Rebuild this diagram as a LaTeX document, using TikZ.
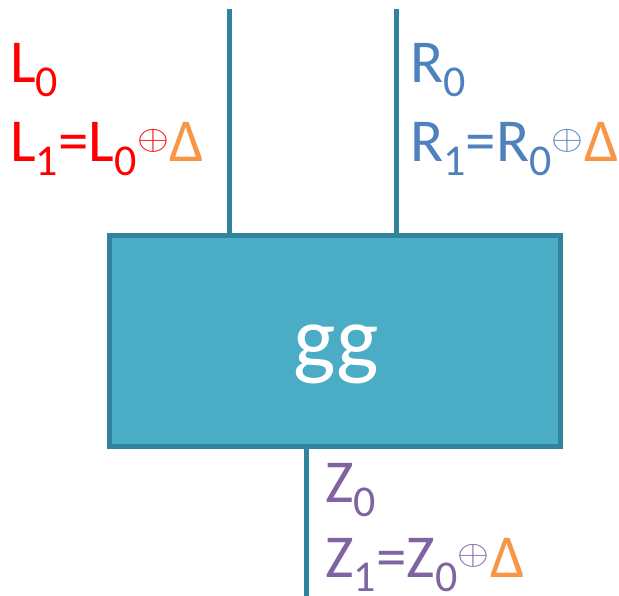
\documentclass[tikz,border=0pt]{standalone}
\usepackage{fontspec}
\setmainfont{Carlito}
\definecolor{boxfill}{HTML}{4BACC6}
\definecolor{boxline}{HTML}{31849B}
\definecolor{lred}{HTML}{FF0000}
\definecolor{rblue}{HTML}{4F81BD}
\definecolor{zpurple}{HTML}{8064A2}
\definecolor{dorange}{HTML}{F79646}
\newcommand{\mysub}[1]{\raisebox{-14pt}{\fontsize{44}{44}\selectfont #1}}
\newcommand{\myxor}{\makebox[33pt]{\raisebox{12.5pt}{\scalebox{4.1}[3.45]{\fontsize{10}{12}\selectfont$\oplus$}}}}
\newcommand{\mydelta}{\textcolor{dorange}{Δ}}
\begin{document}
\begin{tikzpicture}[x=1pt,y=-1pt,
  lbl/.style={anchor=base west,inner sep=0pt,font=\fontsize{61}{61}\selectfont},
  wire/.style={draw=boxline,line width=5pt},
  fbox/.style={draw=boxline,line width=5pt,fill=boxfill,minimum width=451pt,minimum height=211pt,inner sep=0pt}]
\useasboundingbox (0,0) rectangle (619,596);
\node[fbox] (g) at (335,341) {};
\node[anchor=base,inner sep=0pt,text=white,font=\fontsize{90}{90}\selectfont] (gtxt) at (336,368) {gg};
\coordinate (tl) at (229,9);
\coordinate (tr) at (396.5,9);
\coordinate (bz) at (306,596);
\draw[wire] (tl) -- (tl |- g.north);
\draw[wire] (tr) -- (tr |- g.north);
\draw[wire] (g.south -| bz) -- (bz);
\node[lbl,text=lred] (l0) at (10,83) {L\mysub{0}};
\node[lbl,text=lred] (l1) at (10,162) {L\mysub{1}=L\mysub{0}\myxor\mydelta};
\node[lbl,text=rblue] (r0) at (410,83) {R\mysub{0}};
\node[lbl,text=rblue] (r1) at (410,162) {R\mysub{1}=R\mysub{0}\myxor\mydelta};
\node[lbl,text=zpurple] (z0) at (325,502) {Z\mysub{0}};
\node[lbl,text=zpurple] (z1) at (325,577) {Z\mysub{1}=Z\mysub{0}\myxor\mydelta};
\end{tikzpicture}
\end{document}
